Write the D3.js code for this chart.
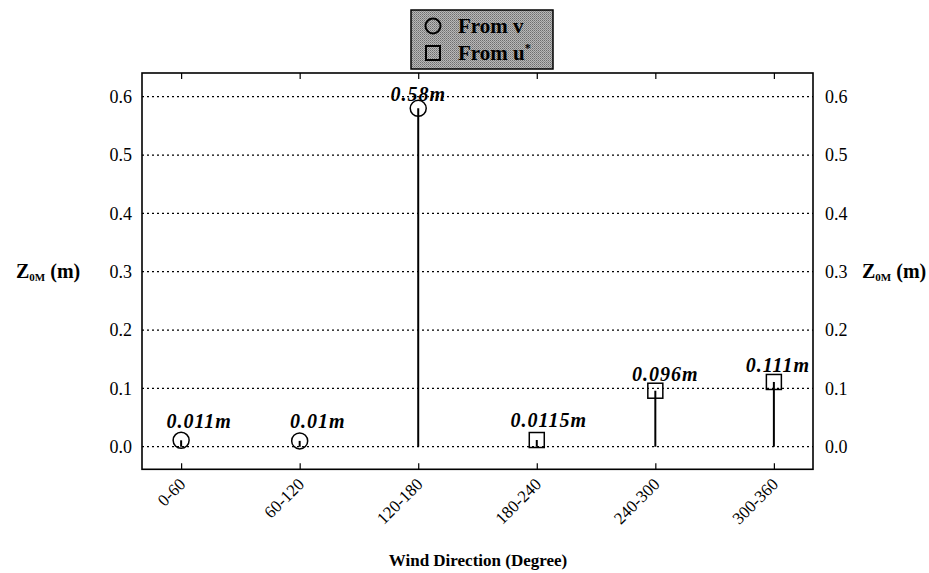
<!DOCTYPE html>
<html><head><meta charset="utf-8">
<script src="https://cdn.jsdelivr.net/npm/d3@7"></script>
<style>
body{margin:0;background:#fff;}
svg{display:block;font-family:"Liberation Serif","Times New Roman",serif;}
</style></head>
<body>
<svg id="chart" width="929" height="573"></svg>
<script>
const categories = ["0-60","60-120","120-180","180-240","240-300","300-360"];
const fromV      = [0.011, 0.01, 0.58, null, null, null];
const fromUstar  = [null, null, null, 0.0115, 0.096, 0.111];
const valueLabels = ["0.011m","0.01m","0.58m","0.0115m","0.096m","0.111m"];
const yTicks = [0.0, 0.1, 0.2, 0.3, 0.4, 0.5, 0.6];
// small annotation nudges (label placement relative to marker)
const labelNudgeX = [18, 18, 0, 12, 10, 4];
const labelNudgeY = [-12, -13, -7, -13, -10, -10];

const svg = d3.select("#chart");
const L = 142, R = 813, T = 73, B = 469.3;
const x = d3.scalePoint().domain(categories).range([L, R]).padding(0.33);
const y = d3.scaleLinear().domain([-0.0387, 0.6406]).range([B, T]);

// gridlines
svg.append("g").selectAll("line").data(yTicks).join("line")
  .attr("x1", L).attr("x2", R)
  .attr("y1", d => y(d)).attr("y2", d => y(d))
  .attr("stroke", "#000").attr("stroke-width", 1.3)
  .attr("stroke-dasharray", "2,3");

// left / right axis labels
const ya = svg.append("g").attr("transform", `translate(${L},0)`)
  .call(d3.axisLeft(y).tickValues(yTicks).tickFormat(d3.format(".1f")).tickSize(0).tickPadding(10));
ya.select(".domain").remove();
ya.selectAll("text").attr("font-size", 18).attr("font-family", "Liberation Serif");
const yb = svg.append("g").attr("transform", `translate(${R},0)`)
  .call(d3.axisRight(y).tickValues(yTicks).tickFormat(d3.format(".1f")).tickSize(0).tickPadding(12));
yb.select(".domain").remove();
yb.selectAll("text").attr("font-size", 18).attr("font-family", "Liberation Serif");

// x axis with inward ticks
const xa = svg.append("g").attr("transform", `translate(0,${B})`)
  .call(d3.axisBottom(x).tickSizeInner(-6).tickSizeOuter(0).tickPadding(0));
xa.select(".domain").remove();
xa.selectAll(".tick line").attr("stroke-width", 1.2);
xa.selectAll("text")
  .attr("font-size", 17).attr("font-family", "Liberation Serif")
  .attr("text-anchor", "end").attr("y", 0).attr("dy", 0)
  .attr("transform", "translate(5,16) rotate(-45)");
const xt = svg.append("g").attr("transform", `translate(0,${T})`)
  .call(d3.axisTop(x).tickSizeInner(-6).tickSizeOuter(0).tickFormat(""));
xt.select(".domain").remove();
xt.selectAll(".tick line").attr("stroke-width", 1.2);

// frame
svg.append("rect").attr("x", L).attr("y", T).attr("width", R - L).attr("height", B - T)
  .attr("fill", "none").attr("stroke", "#000").attr("stroke-width", 1.6);

// stems
const pts = categories.map((c, i) => ({c, i, v: fromV[i] != null ? fromV[i] : fromUstar[i]}));
svg.append("g").selectAll("line").data(pts).join("line")
  .attr("x1", d => x(d.c)).attr("x2", d => x(d.c))
  .attr("y1", y(0)).attr("y2", d => y(d.v))
  .attr("stroke", "#000").attr("stroke-width", 2);

// circles (From v)
svg.append("g").selectAll("circle").data(categories.map((c, i) => ({c, v: fromV[i]})).filter(d => d.v != null))
  .join("circle")
  .attr("cx", d => x(d.c)).attr("cy", d => y(d.v)).attr("r", 8)
  .attr("fill", "none").attr("stroke", "#000").attr("stroke-width", 1.5);

// squares (From u*)
svg.append("g").selectAll("rect").data(categories.map((c, i) => ({c, v: fromUstar[i]})).filter(d => d.v != null))
  .join("rect")
  .attr("x", d => x(d.c) - 7.5).attr("y", d => y(d.v) - 7.5)
  .attr("width", 15).attr("height", 15)
  .attr("fill", "none").attr("stroke", "#000").attr("stroke-width", 1.5);

// value labels
svg.append("g").selectAll("text").data(pts).join("text")
  .attr("x", d => x(d.c) + labelNudgeX[d.i])
  .attr("y", d => y(d.v) + labelNudgeY[d.i])
  .attr("text-anchor", "middle")
  .attr("font-size", 20).attr("font-weight", "bold").attr("font-style", "italic")
  .attr("letter-spacing", 1)
  .text(d => valueLabels[d.i]);

// y axis titles
function zLabel(xpos, ypos) {
  const t = svg.append("text").attr("x", xpos).attr("y", ypos)
    .attr("font-size", 20).attr("font-weight", "bold");
  t.append("tspan").text("Z");
  t.append("tspan").attr("font-size", 11).attr("dy", 3).text("0M");
  t.append("tspan").attr("dy", -3).text(" (m)");
}
zLabel(16, 278);
zLabel(862, 278);

// x axis title
svg.append("text").attr("x", 478).attr("y", 566).attr("text-anchor", "middle")
  .attr("font-size", 17).attr("font-weight", "bold").text("Wind Direction (Degree)");

// legend
const defs = svg.append("defs");
const pat = defs.append("pattern").attr("id", "dither").attr("width", 2).attr("height", 2)
  .attr("patternUnits", "userSpaceOnUse");
pat.append("rect").attr("width", 2).attr("height", 2).attr("fill", "#b8b8b8");
pat.append("rect").attr("width", 1).attr("height", 1).attr("fill", "#6e6e6e");
pat.append("rect").attr("x", 1).attr("y", 1).attr("width", 1).attr("height", 1).attr("fill", "#8a8a8a");
const lg = svg.append("g");
lg.append("rect").attr("x", 411).attr("y", 10).attr("width", 142).attr("height", 59)
  .attr("fill", "url(#dither)").attr("stroke", "#000").attr("stroke-width", 1.5);
lg.append("circle").attr("cx", 433).attr("cy", 26).attr("r", 7.5)
  .attr("fill", "none").attr("stroke", "#000").attr("stroke-width", 2);
lg.append("text").attr("x", 458).attr("y", 33).attr("font-size", 21).attr("font-weight", "bold").text("From v");
lg.append("rect").attr("x", 426).attr("y", 46).attr("width", 14).attr("height", 14)
  .attr("fill", "none").attr("stroke", "#000").attr("stroke-width", 2);
const t2 = lg.append("text").attr("x", 458).attr("y", 60).attr("font-size", 21).attr("font-weight", "bold");
t2.append("tspan").text("From u");
t2.append("tspan").attr("font-size", 12).attr("dy", -8).text("*");
</script>
</body></html>
